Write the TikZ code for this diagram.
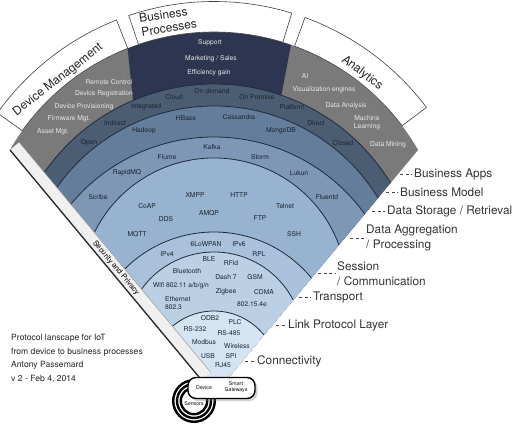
\documentclass[tikz,border=0pt]{standalone}
\usepackage{fontspec}
\setmainfont{TeX Gyre Heros}
\usetikzlibrary{shadows}

\definecolor{appsgray}{HTML}{7A7A7A}
\definecolor{procnavy}{HTML}{2E3550}
\definecolor{modelblue}{HTML}{4B5D72}
\definecolor{storeblue}{HTML}{647D9A}
\definecolor{aggblue}{HTML}{7D97B4}
\definecolor{sessblue}{HTML}{98B3CF}
\definecolor{transblue}{HTML}{A9C1DA}
\definecolor{linkblue}{HTML}{BBD0E5}
\definecolor{connblue}{HTML}{D4E4F3}
\definecolor{bandedge}{HTML}{1E2B3C}
\definecolor{labeltext}{HTML}{1A2430}
\definecolor{lighttext}{HTML}{E8E8E8}
\definecolor{layertext}{HTML}{333333}
\definecolor{leadergray}{HTML}{444444}

\newcommand\bandcalc[2]{%
	\pgfmathsetmacro\bandw{(395-#2)*0.833}%
	\pgfmathsetmacro\bandsag{#2-#1}%
	\pgfmathsetmacro\bandr{(\bandw*(\bandw/\bandsag)+\bandsag)/2}%
	\pgfmathsetmacro\bandang{asin(\bandw/\bandr)}%
}

\tikzset{
	lbl/.style={font=\fontsize{6.7}{8}\selectfont, text=labeltext, inner sep=0pt, align=center},
	lbllight/.style={lbl, text=lighttext},
	layer/.style={font=\fontsize{11.8}{15.5}\selectfont, text=layertext, align=left, anchor=west, inner sep=0pt},
	leader/.style={draw=leadergray, dash pattern=on 3pt off 2.5pt, line width=0.7pt, shorten >=2pt},
	bandline/.style={draw=bandedge, line width=0.8pt},
	tabbox/.style={draw=black!75, line width=0.6pt, fill=white},
	tabtitle/.style={font=\fontsize{12}{13.5}\selectfont, text=black!85, inner sep=0pt, align=left},
	devbox/.style={draw=black, line width=1.4pt, fill=white, rounded corners=8pt, drop shadow={opacity=0.35}},
	tiny/.style={font=\fontsize{5.2}{6}\selectfont, inner sep=0pt, align=center},
	credit/.style={font=\fontsize{8.6}{13.5}\selectfont, text=black!85, align=left, anchor=west, inner sep=0pt}
}

\begin{document}
\begin{tikzpicture}[x=1pt, y=-1pt]
	\useasboundingbox (0,0) rectangle (519,425);
	\coordinate (apex) at (214,395);
	\coordinate (oc)   at (214,267.48);

	\bandcalc{32}{150}
	\fill[appsgray] (apex) -- (214-\bandw,150) arc[start angle=270-\bandang, end angle=270+\bandang, radius=\bandr] -- cycle;
	\begin{scope}
		\clip (apex) -- (214-\bandw,150) arc[start angle=270-\bandang, end angle=270+\bandang, radius=\bandr] -- cycle;
		\fill[procnavy] (122.6,0) -- (299.5,0) -- (273.8,135) -- (136.6,135) -- cycle;
	\end{scope}

	\foreach \t/\e/\c in {84/183/modelblue, 106/198/storeblue, 137/214/aggblue, 158/245/sessblue, 232/278/transblue, 252/300/linkblue, 311/335/connblue}{
		\bandcalc{\t}{\e}
		\fill[\c] (apex) -- (214-\bandw,\e) arc[start angle=270-\bandang, end angle=270+\bandang, radius=\bandr] -- cycle;
		\draw[bandline] (214-\bandw,\e) arc[start angle=270-\bandang, end angle=270+\bandang, radius=\bandr];
	}

	\foreach \a/\b in {215.5/248.5, 251.3/287, 290/323}{
		\draw[tabbox] ([shift={(\a:235.5)}]oc) arc[start angle=\a, end angle=\b, radius=235.5]
			-- ([shift={(\b:266)}]oc) arc[start angle=\b, end angle=\a, radius=266] -- cycle;
	}
	\node[tabtitle, rotate=38]  (tdev)  at (58,80)  {Device Management};
	\node[tabtitle, rotate=9]   (tproc) at (168,21) {Business\\Processes};
	\node[tabtitle, rotate=-37] (tana)  at (362,73) {Analytics};

	\fill[gray!12] (10,150) -- (201.5,380) -- (210.7,372.3) -- (19.2,142.3) -- cycle;
	\draw[black!40, line width=0.5pt] (19.2,142.3) -- (210.7,372.3);
	\draw[black!85, line width=1.3pt] (10,150) -- (201.5,380);
	\node[font=\fontsize{7.5}{8}\selectfont, inner sep=0pt, rotate=-50.2] (secu) at (116,268) {Security and Privacy};

	\node[lbllight] (support) at (210,43) {Support};
	\node[lbllight] (market)  at (211,59) {Marketing / Sales};
	\node[lbllight] (effic)   at (209,73) {Efficiency gain};

	\node[lbllight] (remote)  at (109,82)  {Remote Control};
	\node[lbllight] (regist)  at (104,94)  {Device Registration};
	\node[lbllight] (provis)  at (84,107)  {Device Provisioning};
	\node[lbllight] (firmw)   at (69,119)  {Firmware Mgt.};
	\node[lbllight] (asset)   at (53,132)  {Asset Mgt.};

	\node[lbllight] (ai)      at (305,76)  {AI};
	\node[lbllight] (visu)    at (324,90)  {Visualization engines};
	\node[lbllight] (analys)  at (346,106) {Data Analysis};
	\node[lbllight] (machine) at (367,123) {Machine\\Learning};
	\node[lbllight] (mining)  at (388,145) {Data Mining};

	\node[lbl] (cloud)    at (174,97)  {Cloud};
	\node[lbl] (ondemand) at (212,91)  {On demand};
	\node[lbl] (onprem)   at (257,97)  {On Premise};
	\node[lbl] (integ)    at (146,107) {Integrated};
	\node[lbl] (platf)    at (292,107) {Platform};
	\node[lbl] (indir)    at (115,123) {Indirect};
	\node[lbl] (direct)   at (316,123) {Direct};
	\node[lbl] (open)     at (89,143)  {Open};
	\node[lbl] (closed)   at (343,143) {Closed};

	\node[lbl] (hbase)    at (186,118) {HBase};
	\node[lbl] (cassa)    at (239,117) {Cassandra};
	\node[lbl] (hadoop)   at (144,131) {Hadoop};
	\node[lbl] (mongo)    at (281,131) {MongoDB};

	\node[lbl] (kafka)    at (212,147) {Kafka};
	\node[lbl] (flume)    at (167,157) {Flume};
	\node[lbl] (storm)    at (260,157) {Storm};
	\node[lbl] (rapid)    at (127,173) {RapidMQ};
	\node[lbl] (lukun)    at (299,173) {Lukun};
	\node[lbl] (scribe)   at (98,197)  {Scribe};
	\node[lbl] (fluent)   at (327,197) {Fluentd};

	\node[lbl] (xmpp)     at (195,195) {XMPP};
	\node[lbl] (http)     at (239,195) {HTTP};
	\node[lbl] (coap)     at (147,206) {CoAP};
	\node[lbl] (amqp)     at (209,213) {AMQP};
	\node[lbl] (telnet)   at (285,206) {Telnet};
	\node[lbl] (dds)      at (166,219) {DDS};
	\node[lbl] (ftp)      at (260,218) {FTP};
	\node[lbl] (mqtt)     at (137,234) {MQTT};
	\node[lbl] (ssh)      at (294,234) {SSH};

	\node[lbl] (lowpan)   at (206,244) {6LoWPAN};
	\node[lbl] (ipsix)    at (239,244) {IPv6};
	\node[lbl] (ipfour)   at (167,254) {IPv4};
	\node[lbl] (rpl)      at (259,254) {RPL};

	\node[lbl] (ble)      at (209,259) {BLE};
	\node[lbl] (rfid)     at (231,263) {RFid};
	\node[lbl] (bluet)    at (187,271) {Bluetooth};
	\node[lbl] (dash)     at (226,277) {Dash 7};
	\node[lbl] (gsm)      at (255,277) {GSM};
	\node[lbl] (wifi)     at (181,286) {Wifi 802.11 a/b/g/n};
	\node[lbl] (zigbee)   at (226,292) {Zigbee};
	\node[lbl] (cdma)     at (264,292) {CDMA};
	\node[lbl, align=left, anchor=west] (ether) at (165,303.5) {Ethernet\\802.3};
	\node[lbl] (ieee)     at (252,304) {802.15.4e};

	\node[lbl] (odb)      at (210,318) {ODB2};
	\node[lbl] (plc)      at (235,322) {PLC};
	\node[lbl] (rstwo)    at (195,329) {RS-232};
	\node[lbl] (rsfour)   at (229,333) {RS-485};
	\node[lbl] (modbus)   at (204,342) {Modbus};
	\node[lbl] (wireless) at (237,346) {Wireless};
	\node[lbl] (usb)      at (208,356) {USB};
	\node[lbl] (spi)      at (231,356) {SPI};
	\node[lbl] (rj)       at (223,365) {RJ45};

	\coordinate (sens) at (194,401);
	\fill[white] (sens) circle[radius=22];
	\foreach \r in {20.8,17,13.2}{
		\draw[line width=2.4pt] (sens) circle[radius=\r];
	}
	\node[tiny] (senstxt) at (194,404) {Sensors};
	\node[devbox, minimum width=67pt, minimum height=21pt] (gw) at (221.5,388) {};
	\node[tiny] (devtxt) at (204,388) {Device};
	\node[tiny] (gwtxt)  at (236,387) {Smart\\Gateways};

	\node[layer] (lapps)  at (414,174)   {Business Apps};
	\node[layer] (lmodel) at (400,192)   {Business Model};
	\node[layer] (lstore) at (387,211)   {Data Storage / Retrieval};
	\node[layer] (lagg)   at (366,238)   {Data Aggregation\\/ Processing};
	\node[layer] (lsess)  at (337,273.5) {Session\\/ Communication};
	\node[layer] (ltrans) at (313,297)   {Transport};
	\node[layer] (llink)  at (288,325)   {Link Protocol Layer};
	\node[layer] (lconn)  at (257,361)   {Connectivity};

	\coordinate (dapps)  at (400,174);
	\coordinate (dmodel) at (386,192);
	\coordinate (dstore) at (372,211);
	\coordinate (dagg)   at (350,238);
	\coordinate (dsess)  at (318,273.5);
	\coordinate (dtrans) at (299,297);
	\coordinate (dlink)  at (276,325);
	\coordinate (dconn)  at (245,361);

	\path [leader] (dapps)  edge (lapps);
	\path [leader] (dmodel) edge (lmodel);
	\path [leader] (dstore) edge (lstore);
	\path [leader] (dagg)   edge (lagg);
	\path [leader] (dsess)  edge (lsess);
	\path [leader] (dtrans) edge (ltrans);
	\path [leader] (dlink)  edge (llink);
	\path [leader] (dconn)  edge (lconn);

	\node[credit] (credits) at (11,358.5) {Protocol lanscape for IoT\\from device to business processes\\Antony Passemard\\v 2 - Feb 4, 2014};
\end{tikzpicture}
\end{document}
